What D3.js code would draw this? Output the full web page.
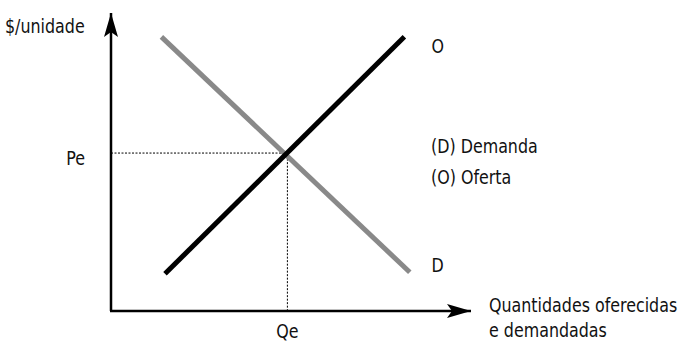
<!DOCTYPE html>
<html lang="pt">
<head>
<meta charset="UTF-8">
<title>Oferta e Demanda</title>
<script src="https://d3js.org/d3.v7.min.js"></script>
<style>
  body { margin: 0; background: #fff; }
  svg text { font-family: "DejaVu Sans Condensed", "Liberation Sans Narrow", "Noto Sans", sans-serif; font-size: 19px; fill: #111; }
</style>
</head>
<body>
<div id="chart"></div>
<script>
  // curve endpoints in chart units (0-100 on both axes)
  let supplyPts = [{q: 15, p: 12.5}, {q: 81.5, p: 92}];
  let demandPts = [{q: 14, p: 92}, {q: 83, p: 13}];
  let equilibrium = {q: 49, p: 53};
  let curveLabels = [{text: "O", q: 89, p: 88.5}, {text: "D", q: 89, p: 15}];
  let legendLines = ["(D) Demanda", "(O) Oferta"];
  let xTitle = ["Quantidades oferecidas", "e demandadas"];

  let W = 683, H = 343;
  let svg = d3.select("#chart").append("svg")
    .attr("width", W).attr("height", H);

  let x = d3.scaleLinear().domain([0, 100]).range([111, 471]);
  let y = d3.scaleLinear().domain([0, 100]).range([311, 13]);

  // narrow text, like a condensed face
  let squeeze = 0.93;
  function label(tx, ty, str, anchor) {
    svg.append("g")
      .attr("transform", `translate(${tx},${ty}) scale(${squeeze},1)`)
      .append("text")
      .attr("text-anchor", anchor || "start")
      .text(str);
  }

  let defs = svg.append("defs");
  defs.append("marker")
    .attr("id", "arrow")
    .attr("viewBox", "0 0 24 14")
    .attr("refX", 24).attr("refY", 7)
    .attr("markerWidth", 24).attr("markerHeight", 14)
    .attr("markerUnits", "userSpaceOnUse")
    .attr("orient", "auto")
    .append("path")
    .attr("d", "M0,0 L24,7 L0,14 L5,7 Z")
    .attr("fill", "#000");

  // axes
  svg.append("path")
    .attr("d", `M${x(0)},${y(0)} L${x(0)},${y(100)}`)
    .attr("stroke", "#000").attr("stroke-width", 2.5).attr("fill", "none")
    .attr("marker-end", "url(#arrow)");
  svg.append("path")
    .attr("d", `M${x(0) - 1},${y(0)} L${x(100)},${y(0)}`)
    .attr("stroke", "#000").attr("stroke-width", 2.5).attr("fill", "none")
    .attr("marker-end", "url(#arrow)");

  // dotted guides
  svg.append("path")
    .attr("d", `M${x(0)},${y(equilibrium.p)} L${x(equilibrium.q)},${y(equilibrium.p)} L${x(equilibrium.q)},${y(0)}`)
    .attr("stroke", "#000").attr("stroke-width", 1).attr("stroke-dasharray", "2,1.5").attr("fill", "none");

  let line = d3.line().x(d => x(d.q)).y(d => y(d.p));

  svg.append("path").datum(demandPts)
    .attr("d", line).attr("stroke", "#898989").attr("stroke-width", 5).attr("fill", "none");
  svg.append("path").datum(supplyPts)
    .attr("d", line).attr("stroke", "#000").attr("stroke-width", 5).attr("fill", "none");

  // labels
  label(5, 33, "$/unidade");
  label(85, y(equilibrium.p) + 12, "Pe", "end");
  label(x(equilibrium.q), 338, "Qe", "middle");

  curveLabels.forEach(d => label(x(d.q), y(d.p) + 6, d.text));
  legendLines.forEach((d, i) => label(431, 153 + i * 31, d));
  xTitle.forEach((d, i) => label(489, 312 + i * 25, d));
</script>
</body>
</html>
